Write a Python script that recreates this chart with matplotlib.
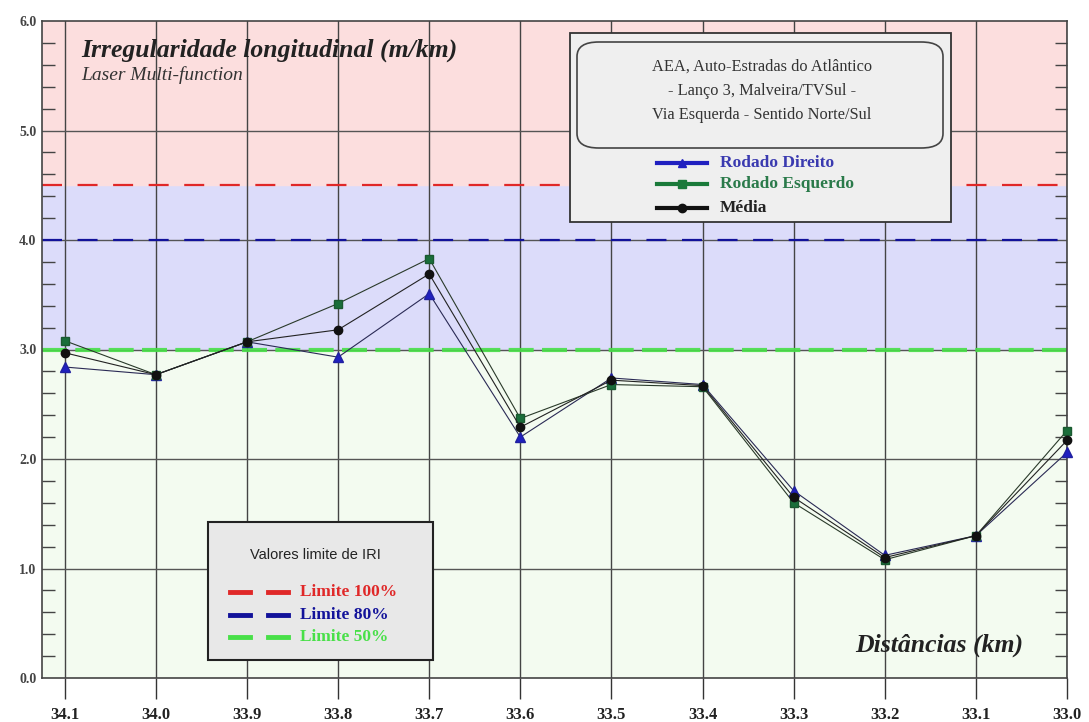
import numpy as np
import matplotlib.pyplot as plt
from matplotlib.patches import Rectangle, FancyBboxPatch
from matplotlib.lines import Line2D

# Distâncias (km) e valores de IRI (m/km)
dist = [34.1, 34.0, 33.9, 33.8, 33.7, 33.6, 33.5, 33.4, 33.3, 33.2, 33.1, 33.0]
rodado_direito = [2.84, 2.77, 3.07, 2.93, 3.51, 2.20, 2.74, 2.68, 1.71, 1.12, 1.30, 2.06]
rodado_esquerdo = [3.08, 2.77, 3.07, 3.42, 3.83, 2.37, 2.68, 2.66, 1.60, 1.08, 1.30, 2.26]
media = [2.97, 2.77, 3.07, 3.18, 3.69, 2.29, 2.72, 2.67, 1.65, 1.10, 1.30, 2.17]

# Limites de IRI
limites = [4.5, 4.0, 3.0]
limite_nomes = ['Limite 100%', 'Limite 80%', 'Limite 50%']
limite_cores = ['#e02828', '#12129a', '#48e048']
yticks = [0.0, 1.0, 2.0, 3.0, 4.0, 5.0, 6.0]

W, H = 1089, 722
fig = plt.figure(figsize=(W / 100, H / 100), dpi=100)
ax = fig.add_axes([42 / W, 44 / H, 1025 / W, 657 / H])

def fx(x):
    return x / W

def fy(y):
    return 1 - y / H

serif = 'Liberation Serif'

# faixas de fundo
ax.axhspan(0, 3.0, color='#f3fbf0', zorder=0)
ax.axhspan(3.0, 4.5, color='#dcdcfa', zorder=0)
ax.axhspan(4.5, 6.0, color='#fcdede', zorder=0)

ax.set_xlim(34.125, 33.0)
ax.set_ylim(0, 6.0)

# grelha
for d in dist:
    ax.axvline(d, color='#444444', lw=1.0, zorder=1)
for v in yticks[1:-1]:
    ax.axhline(v, color='#555555', lw=1.0, zorder=1)

for v, c in zip(limites, limite_cores):
    if v == 3.0:
        ax.axhline(v, color=c, lw=3, ls=(0, (6, 2)), alpha=0.9, zorder=2)
    else:
        ax.axhline(v, color=c, lw=1.6, ls=(0, (9, 7)), zorder=2)

# séries
ax.plot(dist, rodado_direito, color='#2a2a55', lw=0.8, marker='^', ms=7,
        mfc='#2020c0', mec='#2020a0', zorder=4, clip_on=False)
ax.plot(dist, rodado_esquerdo, color='#2a3a2a', lw=0.8, marker='s', ms=6,
        mfc='#1a6e3a', mec='#1a5a30', zorder=4, clip_on=False)
ax.plot(dist, media, color='#222222', lw=0.8, marker='o', ms=6,
        mfc='#111111', mec='#111111', zorder=5, clip_on=False)

ax.set_xticks(dist)
ax.set_xticklabels([f'{d:.1f}' for d in dist], fontfamily=serif,
                   fontweight='bold', fontsize=12, color='#222222')
ax.tick_params(axis='x', direction='out', length=15, width=1, color='#333333', pad=6)
ax.set_yticks(yticks)
ax.set_yticklabels([f'{v:.1f}' for v in yticks], fontfamily=serif,
                   fontweight='bold', fontsize=10, color='#444444')
ax.tick_params(axis='y', length=0, pad=4)
ax.set_yticks(np.arange(0, 6.01, 0.2), minor=True)
ax.tick_params(axis='y', which='minor', direction='in', length=9, width=1,
               color='#444444', left=True, right=True)
for s in ax.spines.values():
    s.set_color('#444444')
    s.set_linewidth(1.2)

ax.text(39 / 1025, 0.955, 'Irregularidade longitudinal (m/km)', transform=ax.transAxes,
        fontfamily=serif, fontweight='bold', fontstyle='italic', fontsize=18.5,
        color='#222222', va='center')
ax.text(39 / 1025, 0.917, 'Laser Multi-function', transform=ax.transAxes,
        fontfamily=serif, fontstyle='italic', fontsize=14, color='#333333', va='center')
ax.text(0.957, 0.05, 'Distâncias (km)', transform=ax.transAxes, fontfamily=serif,
        fontweight='bold', fontstyle='italic', fontsize=18.5, color='#222222',
        ha='right', va='center')

# caixa de identificação e legenda das séries
fig.add_artist(Rectangle((fx(570), fy(222)), fx(381), 189 / H, transform=fig.transFigure,
                         facecolor='#efefef', edgecolor='#333333', lw=1.3, zorder=3))
fig.add_artist(FancyBboxPatch((fx(577), fy(148)), fx(366), 106 / H,
                              boxstyle='round,pad=0,rounding_size=0.02',
                              transform=fig.transFigure, facecolor='#efefef',
                              edgecolor='#444444', lw=1.2, zorder=4))
for y, s in zip([67, 91, 115], ['AEA, Auto-Estradas do Atlântico',
                                 '- Lanço 3, Malveira/TVSul -',
                                 'Via Esquerda - Sentido Norte/Sul']):
    fig.text(fx(762), fy(y), s, fontfamily=serif, fontsize=11.8, color='#333333',
             ha='center', va='center', zorder=5)

series_leg = [('Rodado Direito', '#2020c0', '^', '#3a3ab0'),
              ('Rodado Esquerdo', '#1a7a3a', 's', '#2a7a4a'),
              ('Média', '#111111', 'o', '#222222')]
for y, (nome, cor, mk, tcor) in zip([163, 184, 208], series_leg):
    fig.add_artist(Line2D([fx(657), fx(707)], [fy(y), fy(y)], transform=fig.transFigure,
                          color=cor, lw=3, zorder=5))
    fig.add_artist(Line2D([fx(682)], [fy(y)], transform=fig.transFigure, color=cor,
                          marker=mk, ms=6, zorder=6))
    fig.text(fx(720), fy(y), nome, fontfamily=serif, fontweight='bold', fontsize=12.5,
             color=tcor, va='center', zorder=6)

# legenda dos limites
fig.add_artist(Rectangle((fx(208), fy(660)), fx(225), 138 / H, transform=fig.transFigure,
                         facecolor='#e8e8e8', edgecolor='#222222', lw=1.5, zorder=3))
fig.text(fx(315), fy(555), 'Valores limite de IRI', fontfamily='Liberation Sans',
         fontsize=10.5, color='#222222', ha='center', va='center', zorder=5)
for y, nome, cor in zip([592, 615, 637], limite_nomes, limite_cores):
    for x0, x1 in [(230, 250), (268, 288)]:
        fig.add_artist(Line2D([fx(x0), fx(x1)], [fy(y), fy(y)], transform=fig.transFigure,
                              color=cor, lw=3.5, zorder=5))
    fig.text(fx(300), fy(y), nome, fontfamily=serif, fontweight='bold', fontsize=12.5,
             color=cor, va='center', zorder=5)

fig.savefig('out.png', dpi=100)
